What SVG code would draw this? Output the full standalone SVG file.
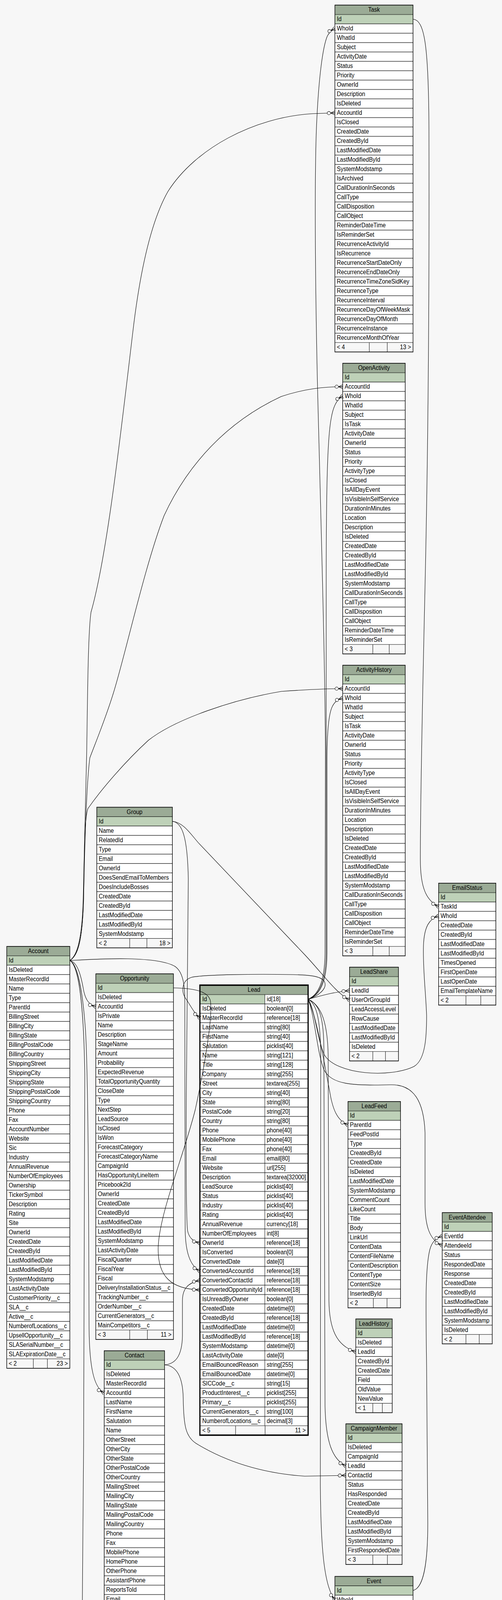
<svg xmlns="http://www.w3.org/2000/svg" width="1285" height="5073" viewBox="0 0 1285 5073">
<style>
text{font-family:"Liberation Sans",Arial,Helvetica,sans-serif;font-size:14.5px;fill:#000}
.ttl{text-anchor:middle}
.r{text-anchor:end}
.body{fill:#fff}
.hd{fill:#9bab96}
.pk{fill:#bed1b8}
.ft{fill:#f7f7f7}
.grid{fill:url(#rows)}
.ln{stroke:#000;stroke-width:1;fill:none}
.frame{fill:none;stroke:#000;stroke-width:1.4}
.focus .frame{stroke-width:3}
.fk{fill:none;stroke:#000;stroke-width:1.1;marker-end:url(#crow)}
</style>
<defs>
<pattern id="rows" patternUnits="userSpaceOnUse" x="0" y="-0.5" width="40" height="20"><rect width="40" height="1" fill="#000"/></pattern>
<marker id="crow" markerUnits="userSpaceOnUse" markerWidth="26" markerHeight="14" viewBox="-23 -7 26 14" refX="0" refY="0" orient="auto">
<path d="M-11,0L0,-5M-11,0L0,0M-11,0L0,5" fill="none" stroke="#000" stroke-width="1.1"/>
<circle cx="-15.5" cy="0" r="4.2" fill="#fff" stroke="#000" stroke-width="1.1"/>
</marker>
</defs>
<rect width="1285" height="5073" fill="#f7f7f7"/>

<g id="Task" transform="translate(857.3,13) scale(1,1.2)">
<rect class="body" width="200" height="740"/><rect class="hd" width="200" height="20"/><rect class="pk" y="20" width="200" height="20"/><rect class="ft" y="720" width="200" height="20"/>
<rect class="grid" y="19.5" width="200" height="701"/><path class="ln" d="M88,720V740M134,720V740"/><rect class="frame" width="200" height="740"/>
<text class="ttl" x="100" y="14.5">Task</text>
<text><tspan x="5" y="34.5">Id</tspan><tspan x="5" dy="20">WhoId</tspan><tspan x="5" dy="20">WhatId</tspan><tspan x="5" dy="20">Subject</tspan><tspan x="5" dy="20">ActivityDate</tspan><tspan x="5" dy="20">Status</tspan><tspan x="5" dy="20">Priority</tspan><tspan x="5" dy="20">OwnerId</tspan><tspan x="5" dy="20">Description</tspan><tspan x="5" dy="20">IsDeleted</tspan><tspan x="5" dy="20">AccountId</tspan><tspan x="5" dy="20">IsClosed</tspan><tspan x="5" dy="20">CreatedDate</tspan><tspan x="5" dy="20">CreatedById</tspan><tspan x="5" dy="20">LastModifiedDate</tspan><tspan x="5" dy="20">LastModifiedById</tspan><tspan x="5" dy="20">SystemModstamp</tspan><tspan x="5" dy="20">IsArchived</tspan><tspan x="5" dy="20">CallDurationInSeconds</tspan><tspan x="5" dy="20">CallType</tspan><tspan x="5" dy="20">CallDisposition</tspan><tspan x="5" dy="20">CallObject</tspan><tspan x="5" dy="20">ReminderDateTime</tspan><tspan x="5" dy="20">IsReminderSet</tspan><tspan x="5" dy="20">RecurrenceActivityId</tspan><tspan x="5" dy="20">IsRecurrence</tspan><tspan x="5" dy="20">RecurrenceStartDateOnly</tspan><tspan x="5" dy="20">RecurrenceEndDateOnly</tspan><tspan x="5" dy="20">RecurrenceTimeZoneSidKey</tspan><tspan x="5" dy="20">RecurrenceType</tspan><tspan x="5" dy="20">RecurrenceInterval</tspan><tspan x="5" dy="20">RecurrenceDayOfWeekMask</tspan><tspan x="5" dy="20">RecurrenceDayOfMonth</tspan><tspan x="5" dy="20">RecurrenceInstance</tspan><tspan x="5" dy="20">RecurrenceMonthOfYear</tspan></text>
<text x="5" y="734.5">&lt; 4</text><text class="r" x="195" y="734.5">13 &gt;</text>
</g>

<g id="OpenActivity" transform="translate(877.3,930) scale(1,1.2)">
<rect class="body" width="160" height="620"/><rect class="hd" width="160" height="20"/><rect class="pk" y="20" width="160" height="20"/><rect class="ft" y="600" width="160" height="20"/>
<rect class="grid" y="19.5" width="160" height="581"/><path class="ln" d="M77,600V620M119,600V620"/><rect class="frame" width="160" height="620"/>
<text class="ttl" x="80" y="14.5">OpenActivity</text>
<text><tspan x="5" y="34.5">Id</tspan><tspan x="5" dy="20">AccountId</tspan><tspan x="5" dy="20">WhoId</tspan><tspan x="5" dy="20">WhatId</tspan><tspan x="5" dy="20">Subject</tspan><tspan x="5" dy="20">IsTask</tspan><tspan x="5" dy="20">ActivityDate</tspan><tspan x="5" dy="20">OwnerId</tspan><tspan x="5" dy="20">Status</tspan><tspan x="5" dy="20">Priority</tspan><tspan x="5" dy="20">ActivityType</tspan><tspan x="5" dy="20">IsClosed</tspan><tspan x="5" dy="20">IsAllDayEvent</tspan><tspan x="5" dy="20">IsVisibleInSelfService</tspan><tspan x="5" dy="20">DurationInMinutes</tspan><tspan x="5" dy="20">Location</tspan><tspan x="5" dy="20">Description</tspan><tspan x="5" dy="20">IsDeleted</tspan><tspan x="5" dy="20">CreatedDate</tspan><tspan x="5" dy="20">CreatedById</tspan><tspan x="5" dy="20">LastModifiedDate</tspan><tspan x="5" dy="20">LastModifiedById</tspan><tspan x="5" dy="20">SystemModstamp</tspan><tspan x="5" dy="20">CallDurationInSeconds</tspan><tspan x="5" dy="20">CallType</tspan><tspan x="5" dy="20">CallDisposition</tspan><tspan x="5" dy="20">CallObject</tspan><tspan x="5" dy="20">ReminderDateTime</tspan><tspan x="5" dy="20">IsReminderSet</tspan></text>
<text x="5" y="614.5">&lt; 3</text>
</g>

<g id="ActivityHistory" transform="translate(877.3,1703) scale(1,1.2)">
<rect class="body" width="160" height="620"/><rect class="hd" width="160" height="20"/><rect class="pk" y="20" width="160" height="20"/><rect class="ft" y="600" width="160" height="20"/>
<rect class="grid" y="19.5" width="160" height="581"/><path class="ln" d="M77,600V620M119,600V620"/><rect class="frame" width="160" height="620"/>
<text class="ttl" x="80" y="14.5">ActivityHistory</text>
<text><tspan x="5" y="34.5">Id</tspan><tspan x="5" dy="20">AccountId</tspan><tspan x="5" dy="20">WhoId</tspan><tspan x="5" dy="20">WhatId</tspan><tspan x="5" dy="20">Subject</tspan><tspan x="5" dy="20">IsTask</tspan><tspan x="5" dy="20">ActivityDate</tspan><tspan x="5" dy="20">OwnerId</tspan><tspan x="5" dy="20">Status</tspan><tspan x="5" dy="20">Priority</tspan><tspan x="5" dy="20">ActivityType</tspan><tspan x="5" dy="20">IsClosed</tspan><tspan x="5" dy="20">IsAllDayEvent</tspan><tspan x="5" dy="20">IsVisibleInSelfService</tspan><tspan x="5" dy="20">DurationInMinutes</tspan><tspan x="5" dy="20">Location</tspan><tspan x="5" dy="20">Description</tspan><tspan x="5" dy="20">IsDeleted</tspan><tspan x="5" dy="20">CreatedDate</tspan><tspan x="5" dy="20">CreatedById</tspan><tspan x="5" dy="20">LastModifiedDate</tspan><tspan x="5" dy="20">LastModifiedById</tspan><tspan x="5" dy="20">SystemModstamp</tspan><tspan x="5" dy="20">CallDurationInSeconds</tspan><tspan x="5" dy="20">CallType</tspan><tspan x="5" dy="20">CallDisposition</tspan><tspan x="5" dy="20">CallObject</tspan><tspan x="5" dy="20">ReminderDateTime</tspan><tspan x="5" dy="20">IsReminderSet</tspan></text>
<text x="5" y="614.5">&lt; 3</text>
</g>

<g id="EmailStatus" transform="translate(1122.7,2261) scale(1,1.2)">
<rect class="body" width="146.6" height="260"/><rect class="hd" width="146.6" height="20"/><rect class="pk" y="20" width="146.6" height="20"/><rect class="ft" y="240" width="146.6" height="20"/>
<rect class="grid" y="19.5" width="146.6" height="221"/><path class="ln" d="M70,240V260M108,240V260"/><rect class="frame" width="146.6" height="260"/>
<text class="ttl" x="73.3" y="14.5">EmailStatus</text>
<text><tspan x="5" y="34.5">Id</tspan><tspan x="5" dy="20">TaskId</tspan><tspan x="5" dy="20">WhoId</tspan><tspan x="5" dy="20">CreatedDate</tspan><tspan x="5" dy="20">CreatedById</tspan><tspan x="5" dy="20">LastModifiedDate</tspan><tspan x="5" dy="20">LastModifiedById</tspan><tspan x="5" dy="20">TimesOpened</tspan><tspan x="5" dy="20">FirstOpenDate</tspan><tspan x="5" dy="20">LastOpenDate</tspan><tspan x="5" dy="20">EmailTemplateName</tspan></text>
<text x="5" y="254.5">&lt; 2</text>
</g>

<g id="LeadShare" transform="translate(894.7,2476) scale(1,1.2)">
<rect class="body" width="125.3" height="200"/><rect class="hd" width="125.3" height="20"/><rect class="pk" y="20" width="125.3" height="20"/><rect class="ft" y="180" width="125.3" height="20"/>
<rect class="grid" y="19.5" width="125.3" height="161"/><path class="ln" d="M59.6,180V200M92,180V200"/><rect class="frame" width="125.3" height="200"/>
<text class="ttl" x="62.65" y="14.5">LeadShare</text>
<text><tspan x="5" y="34.5">Id</tspan><tspan x="5" dy="20">LeadId</tspan><tspan x="5" dy="20">UserOrGroupId</tspan><tspan x="5" dy="20">LeadAccessLevel</tspan><tspan x="5" dy="20">RowCause</tspan><tspan x="5" dy="20">LastModifiedDate</tspan><tspan x="5" dy="20">LastModifiedById</tspan><tspan x="5" dy="20">IsDeleted</tspan></text>
<text x="5" y="194.5">&lt; 2</text>
</g>

<g id="LeadFeed" transform="translate(890.7,2820) scale(1,1.2)">
<rect class="body" width="134.6" height="440"/><rect class="hd" width="134.6" height="20"/><rect class="pk" y="20" width="134.6" height="20"/><rect class="ft" y="420" width="134.6" height="20"/>
<rect class="grid" y="19.5" width="134.6" height="401"/><path class="ln" d="M65,420V440M100,420V440"/><rect class="frame" width="134.6" height="440"/>
<text class="ttl" x="67.3" y="14.5">LeadFeed</text>
<text><tspan x="5" y="34.5">Id</tspan><tspan x="5" dy="20">ParentId</tspan><tspan x="5" dy="20">FeedPostId</tspan><tspan x="5" dy="20">Type</tspan><tspan x="5" dy="20">CreatedById</tspan><tspan x="5" dy="20">CreatedDate</tspan><tspan x="5" dy="20">IsDeleted</tspan><tspan x="5" dy="20">LastModifiedDate</tspan><tspan x="5" dy="20">SystemModstamp</tspan><tspan x="5" dy="20">CommentCount</tspan><tspan x="5" dy="20">LikeCount</tspan><tspan x="5" dy="20">Title</tspan><tspan x="5" dy="20">Body</tspan><tspan x="5" dy="20">LinkUrl</tspan><tspan x="5" dy="20">ContentData</tspan><tspan x="5" dy="20">ContentFileName</tspan><tspan x="5" dy="20">ContentDescription</tspan><tspan x="5" dy="20">ContentType</tspan><tspan x="5" dy="20">ContentSize</tspan><tspan x="5" dy="20">InsertedById</tspan></text>
<text x="5" y="434.5">&lt; 2</text>
</g>

<g id="EventAttendee" transform="translate(1132,3104.3) scale(1,1.2)">
<rect class="body" width="128" height="280"/><rect class="hd" width="128" height="20"/><rect class="pk" y="20" width="128" height="20"/><rect class="ft" y="260" width="128" height="20"/>
<rect class="grid" y="19.5" width="128" height="241"/><path class="ln" d="M60.7,260V280M94.7,260V280"/><rect class="frame" width="128" height="280"/>
<text class="ttl" x="64" y="14.5">EventAttendee</text>
<text><tspan x="5" y="34.5">Id</tspan><tspan x="5" dy="20">EventId</tspan><tspan x="5" dy="20">AttendeeId</tspan><tspan x="5" dy="20">Status</tspan><tspan x="5" dy="20">RespondedDate</tspan><tspan x="5" dy="20">Response</tspan><tspan x="5" dy="20">CreatedDate</tspan><tspan x="5" dy="20">CreatedById</tspan><tspan x="5" dy="20">LastModifiedDate</tspan><tspan x="5" dy="20">LastModifiedById</tspan><tspan x="5" dy="20">SystemModstamp</tspan><tspan x="5" dy="20">IsDeleted</tspan></text>
<text x="5" y="274.5">&lt; 2</text>
</g>

<g id="LeadHistory" transform="translate(910.7,3376.5) scale(1,1.2)">
<rect class="body" width="93.3" height="200"/><rect class="hd" width="93.3" height="20"/><rect class="pk" y="20" width="93.3" height="20"/><rect class="ft" y="180" width="93.3" height="20"/>
<rect class="grid" y="19.5" width="93.3" height="161"/><path class="ln" d="M43.6,180V200M68,180V200"/><rect class="frame" width="93.3" height="200"/>
<text class="ttl" x="46.65" y="14.5">LeadHistory</text>
<text><tspan x="5" y="34.5">Id</tspan><tspan x="5" dy="20">IsDeleted</tspan><tspan x="5" dy="20">LeadId</tspan><tspan x="5" dy="20">CreatedById</tspan><tspan x="5" dy="20">CreatedDate</tspan><tspan x="5" dy="20">Field</tspan><tspan x="5" dy="20">OldValue</tspan><tspan x="5" dy="20">NewValue</tspan></text>
<text x="5" y="194.5">&lt; 1</text>
</g>

<g id="CampaignMember" transform="translate(885.3,3645) scale(1,1.2)">
<rect class="body" width="144" height="300"/><rect class="hd" width="144" height="20"/><rect class="pk" y="20" width="144" height="20"/><rect class="ft" y="280" width="144" height="20"/>
<rect class="grid" y="19.5" width="144" height="261"/><path class="ln" d="M69,280V300M106.4,280V300"/><rect class="frame" width="144" height="300"/>
<text class="ttl" x="72" y="14.5">CampaignMember</text>
<text><tspan x="5" y="34.5">Id</tspan><tspan x="5" dy="20">IsDeleted</tspan><tspan x="5" dy="20">CampaignId</tspan><tspan x="5" dy="20">LeadId</tspan><tspan x="5" dy="20">ContactId</tspan><tspan x="5" dy="20">Status</tspan><tspan x="5" dy="20">HasResponded</tspan><tspan x="5" dy="20">CreatedDate</tspan><tspan x="5" dy="20">CreatedById</tspan><tspan x="5" dy="20">LastModifiedDate</tspan><tspan x="5" dy="20">LastModifiedById</tspan><tspan x="5" dy="20">SystemModstamp</tspan><tspan x="5" dy="20">FirstRespondedDate</tspan></text>
<text x="5" y="294.5">&lt; 3</text>
</g>

<g id="Event" transform="translate(857.3,4035.6) scale(1,1.2)">
<rect class="body" width="200" height="820"/><rect class="hd" width="200" height="20"/><rect class="pk" y="20" width="200" height="20"/><rect class="ft" y="800" width="200" height="20"/>
<rect class="grid" y="19.5" width="200" height="781"/><path class="ln" d="M92,800V820M140,800V820"/><rect class="frame" width="200" height="820"/>
<text class="ttl" x="100" y="14.5">Event</text>
<text><tspan x="5" y="34.5">Id</tspan><tspan x="5" dy="20">WhoId</tspan><tspan x="5" dy="20">WhatId</tspan><tspan x="5" dy="20">Subject</tspan><tspan x="5" dy="20">Location</tspan><tspan x="5" dy="20">IsAllDayEvent</tspan><tspan x="5" dy="20">ActivityDateTime</tspan><tspan x="5" dy="20">ActivityDate</tspan><tspan x="5" dy="20">DurationInMinutes</tspan><tspan x="5" dy="20">StartDateTime</tspan><tspan x="5" dy="20">EndDateTime</tspan><tspan x="5" dy="20">Description</tspan><tspan x="5" dy="20">AccountId</tspan><tspan x="5" dy="20">OwnerId</tspan><tspan x="5" dy="20">IsPrivate</tspan><tspan x="5" dy="20">ShowAs</tspan><tspan x="5" dy="20">IsDeleted</tspan><tspan x="5" dy="20">IsChild</tspan><tspan x="5" dy="20">IsGroupEvent</tspan><tspan x="5" dy="20">GroupEventType</tspan><tspan x="5" dy="20">CreatedDate</tspan><tspan x="5" dy="20">CreatedById</tspan><tspan x="5" dy="20">LastModifiedDate</tspan><tspan x="5" dy="20">LastModifiedById</tspan><tspan x="5" dy="20">SystemModstamp</tspan><tspan x="5" dy="20">IsArchived</tspan><tspan x="5" dy="20">RecurrenceActivityId</tspan><tspan x="5" dy="20">IsRecurrence</tspan><tspan x="5" dy="20">RecurrenceStartDateTime</tspan><tspan x="5" dy="20">RecurrenceEndDateOnly</tspan><tspan x="5" dy="20">RecurrenceTimeZoneSidKey</tspan><tspan x="5" dy="20">RecurrenceType</tspan><tspan x="5" dy="20">RecurrenceInterval</tspan><tspan x="5" dy="20">RecurrenceDayOfWeekMask</tspan><tspan x="5" dy="20">RecurrenceDayOfMonth</tspan><tspan x="5" dy="20">RecurrenceInstance</tspan><tspan x="5" dy="20">RecurrenceMonthOfYear</tspan><tspan x="5" dy="20">ReminderDateTime</tspan><tspan x="5" dy="20">IsReminderSet</tspan></text>
<text x="5" y="814.5">&lt; 4</text><text class="r" x="195" y="814.5">3 &gt;</text>
</g>

<g id="Group" transform="translate(247.7,2066.5) scale(1,1.2)">
<rect class="body" width="193.6" height="300"/><rect class="hd" width="193.6" height="20"/><rect class="pk" y="20" width="193.6" height="20"/><rect class="ft" y="280" width="193.6" height="20"/>
<rect class="grid" y="19.5" width="193.6" height="261"/><path class="ln" d="M84.3,280V300M128.3,280V300"/><rect class="frame" width="193.6" height="300"/>
<text class="ttl" x="96.8" y="14.5">Group</text>
<text><tspan x="5" y="34.5">Id</tspan><tspan x="5" dy="20">Name</tspan><tspan x="5" dy="20">RelatedId</tspan><tspan x="5" dy="20">Type</tspan><tspan x="5" dy="20">Email</tspan><tspan x="5" dy="20">OwnerId</tspan><tspan x="5" dy="20">DoesSendEmailToMembers</tspan><tspan x="5" dy="20">DoesIncludeBosses</tspan><tspan x="5" dy="20">CreatedDate</tspan><tspan x="5" dy="20">CreatedById</tspan><tspan x="5" dy="20">LastModifiedDate</tspan><tspan x="5" dy="20">LastModifiedById</tspan><tspan x="5" dy="20">SystemModstamp</tspan></text>
<text x="5" y="294.5">&lt; 2</text><text class="r" x="188.6" y="294.5">18 &gt;</text>
</g>

<g id="Account" transform="translate(17.3,2422.8) scale(1,1.2)">
<rect class="body" width="161.4" height="900"/><rect class="hd" width="161.4" height="20"/><rect class="pk" y="20" width="161.4" height="20"/><rect class="ft" y="880" width="161.4" height="20"/>
<rect class="grid" y="19.5" width="161.4" height="861"/><path class="ln" d="M68,880V900M104,880V900"/><rect class="frame" width="161.4" height="900"/>
<text class="ttl" x="80.7" y="14.5">Account</text>
<text><tspan x="5" y="34.5">Id</tspan><tspan x="5" dy="20">IsDeleted</tspan><tspan x="5" dy="20">MasterRecordId</tspan><tspan x="5" dy="20">Name</tspan><tspan x="5" dy="20">Type</tspan><tspan x="5" dy="20">ParentId</tspan><tspan x="5" dy="20">BillingStreet</tspan><tspan x="5" dy="20">BillingCity</tspan><tspan x="5" dy="20">BillingState</tspan><tspan x="5" dy="20">BillingPostalCode</tspan><tspan x="5" dy="20">BillingCountry</tspan><tspan x="5" dy="20">ShippingStreet</tspan><tspan x="5" dy="20">ShippingCity</tspan><tspan x="5" dy="20">ShippingState</tspan><tspan x="5" dy="20">ShippingPostalCode</tspan><tspan x="5" dy="20">ShippingCountry</tspan><tspan x="5" dy="20">Phone</tspan><tspan x="5" dy="20">Fax</tspan><tspan x="5" dy="20">AccountNumber</tspan><tspan x="5" dy="20">Website</tspan><tspan x="5" dy="20">Sic</tspan><tspan x="5" dy="20">Industry</tspan><tspan x="5" dy="20">AnnualRevenue</tspan><tspan x="5" dy="20">NumberOfEmployees</tspan><tspan x="5" dy="20">Ownership</tspan><tspan x="5" dy="20">TickerSymbol</tspan><tspan x="5" dy="20">Description</tspan><tspan x="5" dy="20">Rating</tspan><tspan x="5" dy="20">Site</tspan><tspan x="5" dy="20">OwnerId</tspan><tspan x="5" dy="20">CreatedDate</tspan><tspan x="5" dy="20">CreatedById</tspan><tspan x="5" dy="20">LastModifiedDate</tspan><tspan x="5" dy="20">LastModifiedById</tspan><tspan x="5" dy="20">SystemModstamp</tspan><tspan x="5" dy="20">LastActivityDate</tspan><tspan x="5" dy="20">CustomerPriority__c</tspan><tspan x="5" dy="20">SLA__c</tspan><tspan x="5" dy="20">Active__c</tspan><tspan x="5" dy="20">NumberofLocations__c</tspan><tspan x="5" dy="20">UpsellOpportunity__c</tspan><tspan x="5" dy="20">SLASerialNumber__c</tspan><tspan x="5" dy="20">SLAExpirationDate__c</tspan></text>
<text x="5" y="894.5">&lt; 2</text><text class="r" x="156.4" y="894.5">23 &gt;</text>
</g>

<g id="Opportunity" transform="translate(245.3,2493) scale(1,1.2)">
<rect class="body" width="198.7" height="780"/><rect class="hd" width="198.7" height="20"/><rect class="pk" y="20" width="198.7" height="20"/><rect class="ft" y="760" width="198.7" height="20"/>
<rect class="grid" y="19.5" width="198.7" height="741"/><path class="ln" d="M86.7,760V780M132,760V780"/><rect class="frame" width="198.7" height="780"/>
<text class="ttl" x="99.35" y="14.5">Opportunity</text>
<text><tspan x="5" y="34.5">Id</tspan><tspan x="5" dy="20">IsDeleted</tspan><tspan x="5" dy="20">AccountId</tspan><tspan x="5" dy="20">IsPrivate</tspan><tspan x="5" dy="20">Name</tspan><tspan x="5" dy="20">Description</tspan><tspan x="5" dy="20">StageName</tspan><tspan x="5" dy="20">Amount</tspan><tspan x="5" dy="20">Probability</tspan><tspan x="5" dy="20">ExpectedRevenue</tspan><tspan x="5" dy="20">TotalOpportunityQuantity</tspan><tspan x="5" dy="20">CloseDate</tspan><tspan x="5" dy="20">Type</tspan><tspan x="5" dy="20">NextStep</tspan><tspan x="5" dy="20">LeadSource</tspan><tspan x="5" dy="20">IsClosed</tspan><tspan x="5" dy="20">IsWon</tspan><tspan x="5" dy="20">ForecastCategory</tspan><tspan x="5" dy="20">ForecastCategoryName</tspan><tspan x="5" dy="20">CampaignId</tspan><tspan x="5" dy="20">HasOpportunityLineItem</tspan><tspan x="5" dy="20">Pricebook2Id</tspan><tspan x="5" dy="20">OwnerId</tspan><tspan x="5" dy="20">CreatedDate</tspan><tspan x="5" dy="20">CreatedById</tspan><tspan x="5" dy="20">LastModifiedDate</tspan><tspan x="5" dy="20">LastModifiedById</tspan><tspan x="5" dy="20">SystemModstamp</tspan><tspan x="5" dy="20">LastActivityDate</tspan><tspan x="5" dy="20">FiscalQuarter</tspan><tspan x="5" dy="20">FiscalYear</tspan><tspan x="5" dy="20">Fiscal</tspan><tspan x="5" dy="20">DeliveryInstallationStatus__c</tspan><tspan x="5" dy="20">TrackingNumber__c</tspan><tspan x="5" dy="20">OrderNumber__c</tspan><tspan x="5" dy="20">CurrentGenerators__c</tspan><tspan x="5" dy="20">MainCompetitors__c</tspan></text>
<text x="5" y="774.5">&lt; 3</text><text class="r" x="193.7" y="774.5">11 &gt;</text>
</g>

<g id="Lead" class="focus" transform="translate(511.7,2522) scale(1,1.2)">
<rect class="body" width="277" height="960"/><rect class="hd" width="277" height="20"/><rect class="pk" y="20" width="166.2" height="20"/><rect class="ft" y="940" width="277" height="20"/>
<rect class="grid" y="19.5" width="277" height="921"/><path class="ln" d="M166.2,20V940M91.3,940V960M166.9,940V960"/><rect class="frame" width="277" height="960"/>
<text class="ttl" x="138.5" y="14.5">Lead</text>
<text><tspan x="6" y="34.5">Id</tspan><tspan x="6" dy="20">IsDeleted</tspan><tspan x="6" dy="20">MasterRecordId</tspan><tspan x="6" dy="20">LastName</tspan><tspan x="6" dy="20">FirstName</tspan><tspan x="6" dy="20">Salutation</tspan><tspan x="6" dy="20">Name</tspan><tspan x="6" dy="20">Title</tspan><tspan x="6" dy="20">Company</tspan><tspan x="6" dy="20">Street</tspan><tspan x="6" dy="20">City</tspan><tspan x="6" dy="20">State</tspan><tspan x="6" dy="20">PostalCode</tspan><tspan x="6" dy="20">Country</tspan><tspan x="6" dy="20">Phone</tspan><tspan x="6" dy="20">MobilePhone</tspan><tspan x="6" dy="20">Fax</tspan><tspan x="6" dy="20">Email</tspan><tspan x="6" dy="20">Website</tspan><tspan x="6" dy="20">Description</tspan><tspan x="6" dy="20">LeadSource</tspan><tspan x="6" dy="20">Status</tspan><tspan x="6" dy="20">Industry</tspan><tspan x="6" dy="20">Rating</tspan><tspan x="6" dy="20">AnnualRevenue</tspan><tspan x="6" dy="20">NumberOfEmployees</tspan><tspan x="6" dy="20">OwnerId</tspan><tspan x="6" dy="20">IsConverted</tspan><tspan x="6" dy="20">ConvertedDate</tspan><tspan x="6" dy="20">ConvertedAccountId</tspan><tspan x="6" dy="20">ConvertedContactId</tspan><tspan x="6" dy="20">ConvertedOpportunityId</tspan><tspan x="6" dy="20">IsUnreadByOwner</tspan><tspan x="6" dy="20">CreatedDate</tspan><tspan x="6" dy="20">CreatedById</tspan><tspan x="6" dy="20">LastModifiedDate</tspan><tspan x="6" dy="20">LastModifiedById</tspan><tspan x="6" dy="20">SystemModstamp</tspan><tspan x="6" dy="20">LastActivityDate</tspan><tspan x="6" dy="20">EmailBouncedReason</tspan><tspan x="6" dy="20">EmailBouncedDate</tspan><tspan x="6" dy="20">SICCode__c</tspan><tspan x="6" dy="20">ProductInterest__c</tspan><tspan x="6" dy="20">Primary__c</tspan><tspan x="6" dy="20">CurrentGenerators__c</tspan><tspan x="6" dy="20">NumberofLocations__c</tspan></text>
<text><tspan x="171" y="34.5">id[18]</tspan><tspan x="171" dy="20">boolean[0]</tspan><tspan x="171" dy="20">reference[18]</tspan><tspan x="171" dy="20">string[80]</tspan><tspan x="171" dy="20">string[40]</tspan><tspan x="171" dy="20">picklist[40]</tspan><tspan x="171" dy="20">string[121]</tspan><tspan x="171" dy="20">string[128]</tspan><tspan x="171" dy="20">string[255]</tspan><tspan x="171" dy="20">textarea[255]</tspan><tspan x="171" dy="20">string[40]</tspan><tspan x="171" dy="20">string[80]</tspan><tspan x="171" dy="20">string[20]</tspan><tspan x="171" dy="20">string[80]</tspan><tspan x="171" dy="20">phone[40]</tspan><tspan x="171" dy="20">phone[40]</tspan><tspan x="171" dy="20">phone[40]</tspan><tspan x="171" dy="20">email[80]</tspan><tspan x="171" dy="20">url[255]</tspan><tspan x="171" dy="20">textarea[32000]</tspan><tspan x="171" dy="20">picklist[40]</tspan><tspan x="171" dy="20">picklist[40]</tspan><tspan x="171" dy="20">picklist[40]</tspan><tspan x="171" dy="20">picklist[40]</tspan><tspan x="171" dy="20">currency[18]</tspan><tspan x="171" dy="20">int[8]</tspan><tspan x="171" dy="20">reference[18]</tspan><tspan x="171" dy="20">boolean[0]</tspan><tspan x="171" dy="20">date[0]</tspan><tspan x="171" dy="20">reference[18]</tspan><tspan x="171" dy="20">reference[18]</tspan><tspan x="171" dy="20">reference[18]</tspan><tspan x="171" dy="20">boolean[0]</tspan><tspan x="171" dy="20">datetime[0]</tspan><tspan x="171" dy="20">reference[18]</tspan><tspan x="171" dy="20">datetime[0]</tspan><tspan x="171" dy="20">reference[18]</tspan><tspan x="171" dy="20">datetime[0]</tspan><tspan x="171" dy="20">date[0]</tspan><tspan x="171" dy="20">string[255]</tspan><tspan x="171" dy="20">datetime[0]</tspan><tspan x="171" dy="20">string[15]</tspan><tspan x="171" dy="20">picklist[255]</tspan><tspan x="171" dy="20">picklist[255]</tspan><tspan x="171" dy="20">string[100]</tspan><tspan x="171" dy="20">decimal[3]</tspan></text>
<text x="6" y="954.5">&lt; 5</text><text class="r" x="271" y="954.5">11 &gt;</text>
</g>

<g id="Contact" transform="translate(266.7,3458) scale(1,1.2)">
<rect class="body" width="154.6" height="940"/><rect class="hd" width="154.6" height="20"/><rect class="pk" y="20" width="154.6" height="20"/><rect class="ft" y="920" width="154.6" height="20"/>
<rect class="grid" y="19.5" width="154.6" height="901"/><path class="ln" d="M65.3,920V940M99.6,920V940"/><rect class="frame" width="154.6" height="940"/>
<text class="ttl" x="77.3" y="14.5">Contact</text>
<text><tspan x="5" y="34.5">Id</tspan><tspan x="5" dy="20">IsDeleted</tspan><tspan x="5" dy="20">MasterRecordId</tspan><tspan x="5" dy="20">AccountId</tspan><tspan x="5" dy="20">LastName</tspan><tspan x="5" dy="20">FirstName</tspan><tspan x="5" dy="20">Salutation</tspan><tspan x="5" dy="20">Name</tspan><tspan x="5" dy="20">OtherStreet</tspan><tspan x="5" dy="20">OtherCity</tspan><tspan x="5" dy="20">OtherState</tspan><tspan x="5" dy="20">OtherPostalCode</tspan><tspan x="5" dy="20">OtherCountry</tspan><tspan x="5" dy="20">MailingStreet</tspan><tspan x="5" dy="20">MailingCity</tspan><tspan x="5" dy="20">MailingState</tspan><tspan x="5" dy="20">MailingPostalCode</tspan><tspan x="5" dy="20">MailingCountry</tspan><tspan x="5" dy="20">Phone</tspan><tspan x="5" dy="20">Fax</tspan><tspan x="5" dy="20">MobilePhone</tspan><tspan x="5" dy="20">HomePhone</tspan><tspan x="5" dy="20">OtherPhone</tspan><tspan x="5" dy="20">AssistantPhone</tspan><tspan x="5" dy="20">ReportsToId</tspan><tspan x="5" dy="20">Email</tspan><tspan x="5" dy="20">Title</tspan><tspan x="5" dy="20">Department</tspan><tspan x="5" dy="20">AssistantName</tspan><tspan x="5" dy="20">LeadSource</tspan><tspan x="5" dy="20">Birthdate</tspan><tspan x="5" dy="20">Description</tspan><tspan x="5" dy="20">OwnerId</tspan><tspan x="5" dy="20">CreatedDate</tspan><tspan x="5" dy="20">CreatedById</tspan><tspan x="5" dy="20">LastModifiedDate</tspan><tspan x="5" dy="20">LastModifiedById</tspan><tspan x="5" dy="20">SystemModstamp</tspan><tspan x="5" dy="20">LastActivityDate</tspan><tspan x="5" dy="20">LastCURequestDate</tspan><tspan x="5" dy="20">LastCUUpdateDate</tspan><tspan x="5" dy="20">EmailBouncedReason</tspan><tspan x="5" dy="20">EmailBouncedDate</tspan><tspan x="5" dy="20">Level__c</tspan><tspan x="5" dy="20">Languages__c</tspan></text>
<text x="5" y="934.5">&lt; 3</text><text class="r" x="149.6" y="934.5">19 &gt;</text>
</g>

<g id="connectors">
<path class="fk" d="M1057.3,49 C1086,52 1097,110 1098,330 C1099,700 1097,1100 1088,1500 C1080,1850 1076,2050 1076,2200 C1076,2275 1092,2305 1122.7,2321"/>
<path class="fk" d="M788.7,2558 C812,2548 831,2520 832,2440 L833,1920 C832,1700 822,1350 813,1000 C806,700 805,420 811,306 C816,200 826,120 838,92 C843,83 849,77 857.3,73"/>
<path class="fk" d="M788.7,2558 C814,2549 834,2520 835,2440 L835,1500 C835,1250 838,1120 848,1070 C853,1040 862,1022 877.3,1014"/>
<path class="fk" d="M788.7,2558 C816,2550 837,2520 837,2440 L837,1950 C837,1870 842,1825 851,1808 C857,1796 865,1791 877.3,1787"/>
<path class="fk" d="M178.7,2458.8 C196,2448 210,2410 213,2300 C216,2150 220,2000 222,1920 C224,1800 225,1620 233,1567 C275,1420 310,1100 340,850 C360,680 390,560 430,490 C500,380 650,300 800,291 L857.3,289"/>
<path class="fk" d="M178.7,2458.8 C197,2448 211,2415 214,2300 C217,2150 222,2000 230,1940 C245,1900 270,1840 290,1775 C320,1680 370,1450 420,1320 C480,1190 580,1080 720,1015 C780,995 830,990 877.3,990"/>
<path class="fk" d="M178.7,2458.8 C197,2449 211,2418 214,2300 C216,2200 215,2100 225,2070 C260,2020 320,1950 380,1895 C450,1840 600,1790 720,1770 C790,1765 840,1763 877.3,1763"/>
<path class="fk" d="M178.7,2458.8 C198,2463 207,2495 214,2535 C219,2560 228,2572 245.3,2577"/>
<path class="fk" d="M178.7,2458.8 C199,2468 212,2540 219,2640 C227,2780 227,3200 228,3400 C229,3500 240,3552 266.7,3566"/>
<path class="fk" d="M178.7,2458.8 C201,2472 214,2560 217,2750 L214,3700 C211,4100 206,4480 215,4570 C225,4620 280,4652 360,4652 C440,4650 500,4590 560,4530 C640,4450 720,4368 857.3,4359.6"/>
<path class="fk" d="M178.7,2458.8 C250,2455 400,2446 448,2474 C468,2488 473,2520 473,2560 L474,3150 C475,3205 486,3240 511.7,3254"/>
<path class="fk" d="M441.3,2102.5 C470,2105 490,2138 510,2160 L780,2444 C828,2495 858,2540 894.7,2560"/>
<path class="fk" d="M441.3,2102.5 C466,2106 480,2140 482,2250 L477,2800 C476,3000 477,3120 480,3150 C484,3170 495,3178 511.7,3182"/>
<path class="fk" d="M788.7,2558 C815,2550 840,2530 830,2512 C820,2498 790,2496 750,2495 C650,2493 520,2495 490,2502 C465,2510 462,2540 478,2560 C488,2575 498,2595 511.7,2606"/>
<path class="fk" d="M444,2529 C490,2530 530,2535 538,2560 C545,2590 530,2700 500,2840 C470,2960 410,3100 405,3190 C402,3270 440,3300 511.7,3302"/>
<path class="fk" d="M421.3,3494 C450,3492 466,3470 467,3420 L467,3330 C467,3300 480,3284 511.7,3278"/>
<path class="fk" d="M421.3,3494 C450,3496 468,3520 469,3580 C470,3650 475,3680 505,3697 C560,3730 650,3770 780,3779 L885.3,3777"/>
<path class="fk" d="M788.7,2558 C820,2550 850,2540 894.7,2536"/>
<path class="fk" d="M788.7,2558 C805,2580 812,2660 830,2700 C860,2752 1000,2760 1060,2730 C1090,2712 1092,2650 1092,2600 C1090,2540 1082,2480 1084,2420 C1086,2370 1100,2352 1122.7,2345"/>
<path class="fk" d="M788.7,2558 C806,2600 812,2700 830,2740 C850,2776 900,2780 1000,2777 C1060,2776 1085,2820 1088,2900 L1088,3080 C1088,3140 1100,3175 1132,3188.3"/>
<path class="fk" d="M788.7,2558 C810,2600 830,2720 845,2800 C852,2840 863,2868 890.7,2880"/>
<path class="fk" d="M788.7,2558 C815,2570 838,2600 840,2700 L842,3330 C843,3400 860,3445 910.7,3460.5"/>
<path class="fk" d="M788.7,2558 C812,2568 828,2590 829,2680 L832,3600 C834,3690 850,3735 885.3,3753"/>
<path class="fk" d="M788.7,2558 C808,2568 820,2600 821,2700 L820,3800 C821,3950 828,4060 857.3,4095.6"/>
<path class="fk" d="M1057.3,4071.6 C1085,4065 1095,4000 1095,3900 L1092,3500 C1090,3350 1088,3250 1100,3200 C1105,3180 1115,3170 1132,3164.3"/>
</g>

<g transform="translate(16.3,5061) scale(1,1.2)"><text x="0" y="0">Generated by SchemaSpy</text></g>
</svg>
